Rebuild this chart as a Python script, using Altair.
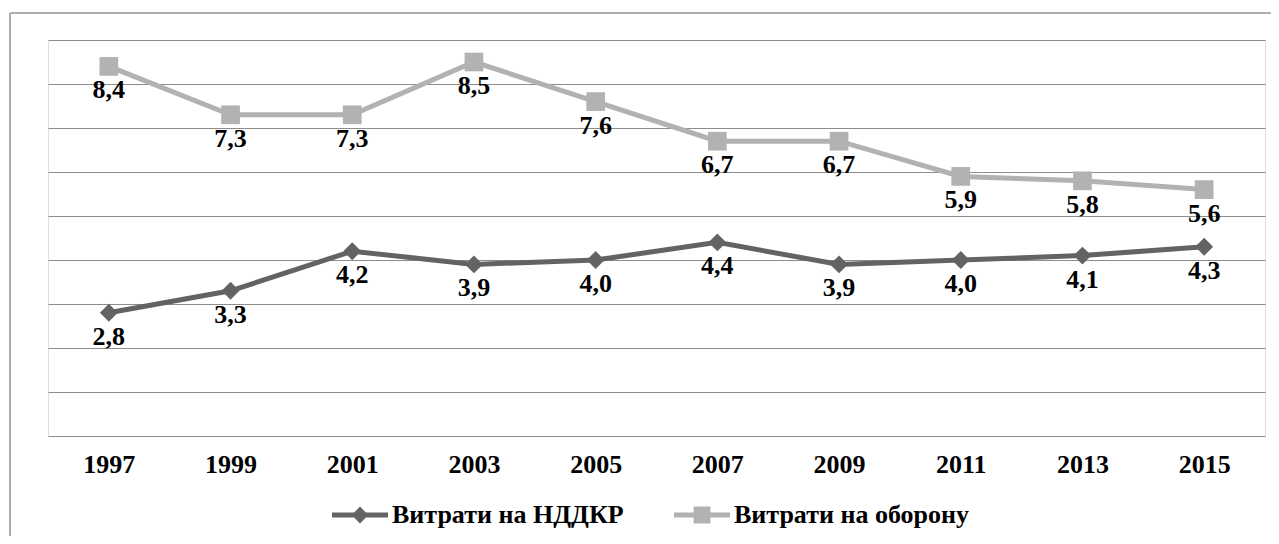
import altair as alt
import pandas as pd

years = ["1997", "1999", "2001", "2003", "2005", "2007", "2009", "2011", "2013", "2015"]
rd_values = [2.8, 3.3, 4.2, 3.9, 4.0, 4.4, 3.9, 4.0, 4.1, 4.3]
defense_values = [8.4, 7.3, 7.3, 8.5, 7.6, 6.7, 6.7, 5.9, 5.8, 5.6]
series_names = ["Витрати на НДДКР", "Витрати на оборону"]
series_colors = ["#636363", "#b2b2b2"]
y_ticks = [0, 1, 2, 3, 4, 5, 6, 7, 8, 9]

rows = []
for name, vals in zip(series_names, [rd_values, defense_values]):
    for yr, v in zip(years, vals):
        rows.append({"year": yr, "value": v, "series": name,
                     "label": f"{v:.1f}".replace(".", ",")})
df = pd.DataFrame(rows)

FONT = "Liberation Serif"
FS = 26
W, H = 1217, 396

x_enc = alt.X("year:N", sort=years, scale=alt.Scale(type="point", padding=0.5),
              axis=alt.Axis(title=None, labelAngle=0, labelFont=FONT, labelFontSize=FS,
                            labelFontWeight="bold", labelColor="#000000", labelPadding=15,
                            ticks=False, domain=False, grid=False))
y_enc = alt.Y("value:Q", scale=alt.Scale(domain=[0, 9], nice=False, zero=True),
              axis=alt.Axis(title=None, values=y_ticks, labels=False, ticks=False,
                            domain=False, grid=True, gridColor="#8d8d8d", gridWidth=1))
color_nl = alt.Color("series:N", scale=alt.Scale(domain=series_names, range=series_colors), legend=None)

base = alt.Chart(df)

lines = base.mark_line(strokeWidth=5).encode(x=x_enc, y=y_enc, color=color_nl)

points = base.mark_point(filled=True, opacity=1, strokeWidth=0).encode(
    x=alt.X("year:N", sort=years), y="value:Q", color=color_nl,
    shape=alt.Shape("series:N", scale=alt.Scale(domain=series_names, range=["diamond", "square"]), legend=None),
    size=alt.Size("series:N", scale=alt.Scale(domain=series_names, range=[320, 350]), legend=None),
)

labels = base.mark_text(font=FONT, fontSize=FS, fontWeight="bold", color="#000000", dy=24).encode(
    x=alt.X("year:N", sort=years), y="value:Q", text="label:N")

# custom legend symbols: Vega normalises custom paths to [-1, 1]
diamond_path = "M-1.4,-0.12H1.4V0.12H-1.4Z M0,-0.42L0.42,0L0,0.42L-0.42,0Z"
square_path = "M-1.4,-0.12H1.4V0.12H-1.4Z M-0.42,-0.42H0.42V0.42H-0.42Z"

legend_layer = base.transform_filter("false").mark_point(filled=True, opacity=1).encode(
    x=alt.X("year:N", sort=years), y="value:Q",
    color=alt.Color("series:N", scale=alt.Scale(domain=series_names, range=series_colors),
                    legend=alt.Legend(title=None, orient="none", legendX=292, legendY=455,
                                      direction="horizontal", padding=0,
                                      labelFont=FONT, labelFontSize=FS, labelFontWeight="bold",
                                      labelColor="#000000", labelLimit=0, symbolOpacity=1,
                                      symbolStrokeWidth=0, symbolSize=1600, labelOffset=12,
                                      columnPadding=50)),
    shape=alt.Shape("series:N", scale=alt.Scale(domain=series_names, range=[diamond_path, square_path])),
)

frame_top = alt.Chart(pd.DataFrame({"k": [0]})).mark_rule(color="#adadad", strokeWidth=2).encode(
    x=alt.value(-38), x2=alt.value(1223), y=alt.value(-27))
frame_left = alt.Chart(pd.DataFrame({"k": [0]})).mark_rule(color="#adadad", strokeWidth=2).encode(
    x=alt.value(-38), y=alt.value(-27), y2=alt.value(510))

chart = alt.layer(frame_top, frame_left, lines, points, labels, legend_layer).resolve_scale(
    color="independent", shape="independent", size="independent"
).properties(
    width=W, height=H,
    autosize=alt.AutoSizeParams(type="none"),
    padding={"left": 40, "top": 32, "right": 6, "bottom": 100},
).configure_view(stroke=None).configure(background="#ffffff")

chart.save("out.html", embed_options={"renderer": "svg", "actions": False})
